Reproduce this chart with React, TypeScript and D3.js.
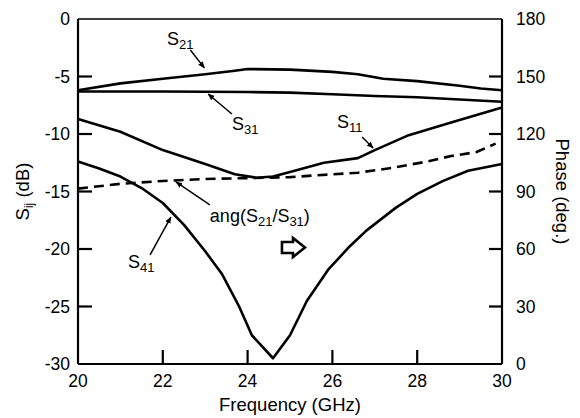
import React from 'react'
import * as d3 from 'd3'

// frequency (GHz) / magnitude (dB) pairs
const s21Freq = [20, 21, 22, 23, 23.7, 24, 25, 26, 26.6, 27.2, 28, 29, 29.5, 30]
const s21Db = [-6.2, -5.6, -5.2, -4.8, -4.5, -4.35, -4.4, -4.6, -4.8, -5.2, -5.4, -5.8, -6.05, -6.2]

const s31Freq = [20, 22, 24, 25, 26, 27, 28, 29, 30]
const s31Db = [-6.3, -6.3, -6.35, -6.4, -6.55, -6.7, -6.8, -7.0, -7.2]

const s11Freq = [20, 21, 22, 23, 23.7, 24.2, 24.6, 25, 25.8, 26.6, 27, 27.8, 28.8, 30]
const s11Db = [-8.7, -9.8, -11.4, -12.6, -13.5, -13.8, -13.7, -13.3, -12.5, -12.1, -11.4, -10.1, -9.0, -7.7]

const s41Freq = [20, 20.5, 21, 21.5, 22, 22.5, 23, 23.4, 23.8, 24.1, 24.6, 25, 25.4, 25.9, 26.4, 26.8, 27.5, 28, 28.6, 29.2, 30]
const s41Db = [-12.4, -13.0, -13.7, -14.7, -16.0, -17.9, -20.2, -22.2, -25.0, -27.5, -29.5, -27.5, -24.5, -21.8, -19.8, -18.4, -16.4, -15.2, -14.1, -13.2, -12.6]

// phase of S21/S31 (deg.), right axis
const phaseFreq = [20, 21, 22, 23, 24, 25, 26, 26.6, 27.4, 28.2, 28.8, 29.4, 29.85]
const phaseDeg = [91.5, 94, 95.5, 96.5, 97, 97.5, 99, 99.8, 102.3, 105.5, 108.5, 110.6, 115]

const freqTicks = [20, 22, 24, 26, 28, 30]
const dbTicks = [0, -5, -10, -15, -20, -25, -30]
const phaseTicks = [0, 30, 60, 90, 120, 150, 180]

const W = 580
const H = 418
const m = { left: 78, top: 19, right: 78, bottom: 54 }
const font = '"Liberation Sans", Arial, Helvetica, sans-serif'

const zip = (xs: number[], ys: number[]) => xs.map((x, i) => [x, ys[i]] as [number, number])

const App = () => {
  const x = d3.scaleLinear().domain([20, 30]).range([m.left, W - m.right])
  const y = d3.scaleLinear().domain([-30, 0]).range([H - m.bottom, m.top])
  const yp = d3.scaleLinear().domain([0, 180]).range([H - m.bottom, m.top])

  const lineDb = d3.line<[number, number]>().x((d) => x(d[0])).y((d) => y(d[1]))
  const linePh = d3.line<[number, number]>().x((d) => x(d[0])).y((d) => yp(d[1]))

  const x0 = m.left
  const x1 = W - m.right
  const y0 = H - m.bottom
  const y1 = m.top
  const tl = 14

  // annotation arrows in data units: [fromF, fromDb, toF, toDb]
  const arrows = [
    [22.65, -2.7, 22.98, -4.25],
    [23.63, -8.26, 23.07, -6.52],
    [26.7, -10.26, 26.96, -11.22],
    [21.7, -20.52, 22.19, -17.22],
    [23.11, -16.17, 22.31, -14.17],
  ]

  const sub = (main: string, s: string, fx: number, fdb: number, key: string) => (
    <text key={key} x={x(fx)} y={y(fdb)} fontSize={18}>
      <tspan>{main}</tspan>
      <tspan dy={4} fontSize={13}>{s}</tspan>
    </text>
  )

  const hx = x(25.07)
  const hy = y(-19.87)
  const hollow = [
    [-11, -5.5], [0, -5.5], [0, -9.5], [12, 0], [0, 9.5], [0, 5.5], [-11, 5.5],
  ].map((p) => `${hx + p[0]},${hy + p[1]}`).join(' ')

  return (
    <svg width={W} height={H} style={{ position: 'absolute', left: 0, top: 0, background: '#fff' }}
      fontFamily={font}>
      <defs>
        <marker id="ah" viewBox="0 0 10 10" refX="9" refY="5" markerWidth="7" markerHeight="7"
          markerUnits="userSpaceOnUse" orient="auto">
          <path d="M0,1 L10,5 L0,9 z" fill="#000" />
        </marker>
      </defs>

      {/* frame */}
      <line x1={x0} x2={x1} y1={y1} y2={y1} stroke="#000" strokeWidth={1.6} />
      <line x1={x0} x2={x0} y1={y1} y2={y0} stroke="#000" strokeWidth={2.2} />
      <line x1={x1} x2={x1} y1={y1} y2={y0} stroke="#000" strokeWidth={2.2} />
      <line x1={x0} x2={x1} y1={y0} y2={y0} stroke="#000" strokeWidth={2.2} />

      {/* ticks */}
      {dbTicks.slice(1, -1).map((t) => (
        <line key={'ld' + t} x1={x0} x2={x0 + tl} y1={y(t)} y2={y(t)} stroke="#000" strokeWidth={2.2} />
      ))}
      {freqTicks.slice(1, -1).map((t) => (
        <line key={'bf' + t} x1={x(t)} x2={x(t)} y1={y0} y2={y0 - tl} stroke="#000" strokeWidth={2.2} />
      ))}
      {phaseTicks.slice(1, -1).map((t) => (
        <line key={'rp' + t} x1={x1} x2={x1 - 13} y1={yp(t)} y2={yp(t)} stroke="#000" strokeWidth={2.2} />
      ))}

      {/* tick labels */}
      <g fontSize={17.5}>
        {dbTicks.map((t) => (
          <text key={'tl' + t} x={x0 - 8} y={y(t)} dy="0.36em" textAnchor="end">{t}</text>
        ))}
        {freqTicks.map((t) => (
          <text key={'tb' + t} x={x(t)} y={y0 + 23} textAnchor="middle">{t}</text>
        ))}
        {phaseTicks.map((t) => (
          <text key={'tr' + t} x={x1 + 14} y={yp(t)} dy="0.36em">{t}</text>
        ))}
      </g>

      {/* axis titles */}
      <text x={(x0 + x1) / 2} y={H - 7} textAnchor="middle" fontSize={18.5}>Frequency (GHz)</text>
      <text transform={`translate(29,${(y0 + y1) / 2}) rotate(-90)`} textAnchor="middle" fontSize={18.5}>
        <tspan>S</tspan>
        <tspan dy={4} fontSize={12}>ij</tspan>
        <tspan dy={-4}> (dB)</tspan>
      </text>
      <text transform={`translate(556,${(y0 + y1) / 2}) rotate(90)`} textAnchor="middle" fontSize={18.5}>
        Phase (deg.)
      </text>

      {/* curves */}
      <g fill="none" stroke="#000" strokeWidth={2.6} strokeLinejoin="round">
        <path d={lineDb(zip(s21Freq, s21Db)) ?? ''} />
        <path d={lineDb(zip(s31Freq, s31Db)) ?? ''} />
        <path d={lineDb(zip(s11Freq, s11Db)) ?? ''} />
        <path d={lineDb(zip(s41Freq, s41Db)) ?? ''} />
        <path d={linePh(zip(phaseFreq, phaseDeg)) ?? ''} strokeDasharray="10 6" />
      </g>

      {/* annotations */}
      {arrows.map((a, i) => (
        <line key={'ar' + i} x1={x(a[0])} y1={y(a[1])} x2={x(a[2])} y2={y(a[3])}
          stroke="#000" strokeWidth={1.5} markerEnd="url(#ah)" />
      ))}
      {sub('S', '21', 22.1, -2.3, 'a21')}
      {sub('S', '31', 23.63, -9.65, 'a31')}
      {sub('S', '11', 26.11, -9.48, 'a11')}
      {sub('S', '41', 21.18, -21.65, 'a41')}
      <text x={x(23.11)} y={y(-17.65)} fontSize={18}>
        <tspan>ang(S</tspan>
        <tspan dy={4} fontSize={13}>21</tspan>
        <tspan dy={-4}>/S</tspan>
        <tspan dy={4} fontSize={13}>31</tspan>
        <tspan dy={-4}>)</tspan>
      </text>
      <polygon points={hollow} fill="#fff" stroke="#000" strokeWidth={2.6} strokeLinejoin="miter" />
    </svg>
  )
}

export default App
